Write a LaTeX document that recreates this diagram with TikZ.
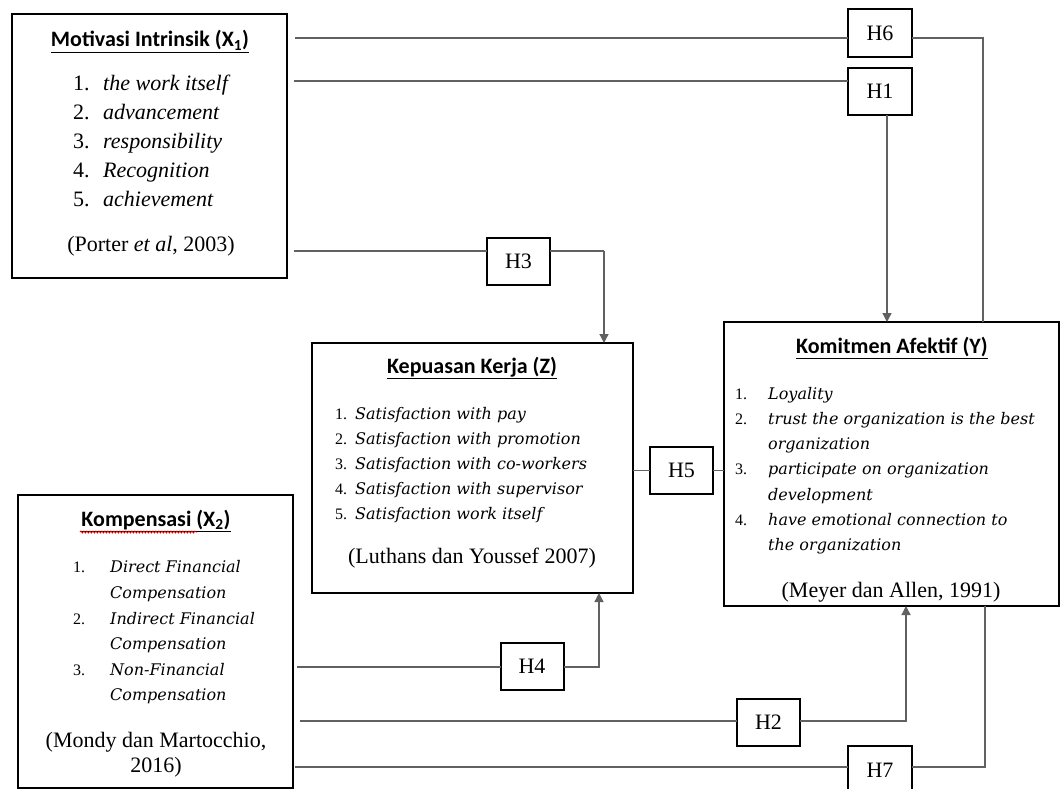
\documentclass[tikz,border=0pt]{standalone}
\usepackage{fontspec}
\setmainfont{Liberation Serif}
\newfontfamily\titlefont{Carlito}
\newfontfamily\slabfont{DejaVu Serif}
\usetikzlibrary{arrows.meta,decorations.pathmorphing}

% font sizes (1pt = 1 unit of the drawing grid)
\newcommand\bigfs{\fontsize{22}{25}\selectfont}
\newcommand\smallfs{\fontsize{16}{20}\selectfont}

\begin{document}
\begin{tikzpicture}[x=1pt,y=-1pt,
  varbox/.style={draw=black, line width=2pt, inner sep=0pt, outer sep=0pt},
  hbox/.style={draw=black, line width=2pt, inner sep=0pt, outer sep=0pt,
    minimum width=63pt, minimum height=47pt, font=\bigfs},
  ttl/.style={inner sep=0pt, anchor=base, font=\titlefont\bfseries\bigfs},
  num/.style={inner sep=0pt, anchor=base west, font=\bigfs},
  itm/.style={inner sep=0pt, anchor=base west, font=\bigfs\itshape},
  snum/.style={inner sep=0pt, anchor=base west, font=\smallfs},
  sitm/.style={inner sep=0pt, anchor=base west, font=\slabfont\smallfs\itshape},
  cite/.style={inner sep=0pt, anchor=base, font=\bigfs},
  link/.style={draw=black!62, line width=1.3pt},
  arr/.style={link, -{Triangle[width=9pt,length=9pt]}}]

\useasboundingbox (0,0) rectangle (1062,789);
\fill[white] (0,0) rectangle (1062,789);
\clip (0,0) rectangle (1062,789);

% ---- variable boxes ----
\node[varbox, minimum width=275pt, minimum height=264pt] (mi) at (149.5,146) {};
\node[varbox, minimum width=321pt, minimum height=250pt] (kk) at (472.5,468) {};
\node[varbox, minimum width=335pt, minimum height=284pt] (ka) at (891.5,464) {};
\node[varbox, minimum width=275pt, minimum height=293pt] (ko) at (155.5,641.5) {};

% ---- hypothesis boxes ----
\node[hbox, minimum width=64pt, minimum height=48pt] (h6) at (880,33) {H6};
\node[hbox, minimum width=64pt] (h1) at (880,91.5) {H1};
\node[hbox] (h3) at (518.5,261.5) {H3};
\node[hbox] (h5) at (681.5,470.5) {H5};
\node[hbox] (h4) at (532,666.5) {H4};
\node[hbox] (h2) at (768.5,722) {H2};
\node[hbox, minimum width=64pt, minimum height=48pt] (h7) at (880,770) {H7};

% ---- Motivasi Intrinsik ----
\node[ttl] (mit) at (150,47) {\underline{Motivasi Intrinsik (X\textsubscript{1})}};
\node[num] (mn1) at (73,91)  {1.}; \node[itm] (mi1) at (103,91)  {the work itself};
\node[num] (mn2) at (73,120) {2.}; \node[itm] (mi2) at (103,120) {advancement};
\node[num] (mn3) at (73,149) {3.}; \node[itm] (mi3) at (103,149) {responsibility};
\node[num] (mn4) at (73,177) {4.}; \node[itm] (mi4) at (103,177) {Recognition};
\node[num] (mn5) at (73,206) {5.}; \node[itm] (mi5) at (103,206) {achievement};
\node[cite] (mic) at (151,251) {(Porter \textit{et al}, 2003)};

% ---- Kepuasan Kerja ----
\node[ttl] (kkt) at (472,373) {\underline{Kepuasan Kerja (Z)}};
\node[snum] (kn1) at (335,419) {1.}; \node[sitm] (ki1) at (355,419) {Satisfaction with pay};
\node[snum] (kn2) at (335,444) {2.}; \node[sitm] (ki2) at (355,444) {Satisfaction with promotion};
\node[snum] (kn3) at (335,469) {3.}; \node[sitm] (ki3) at (355,469) {Satisfaction with co-workers};
\node[snum] (kn4) at (335,494) {4.}; \node[sitm] (ki4) at (355,494) {Satisfaction with supervisor};
\node[snum] (kn5) at (335,519) {5.}; \node[sitm] (ki5) at (355,519) {Satisfaction work itself};
\node[cite] (kkc) at (472,563) {(Luthans dan Youssef 2007)};

% ---- Komitmen Afektif ----
\node[ttl] (kat) at (892,353) {\underline{Komitmen Afektif (Y)}};
\node[snum] (an1) at (735,399) {1.}; \node[sitm] (ai1) at (768,399) {Loyality};
\node[snum] (an2) at (735,424) {2.}; \node[sitm] (ai2) at (768,424) {trust the organization is the best};
\node[sitm] (ai2b) at (768,449) {organization};
\node[snum] (an3) at (735,474) {3.}; \node[sitm] (ai3) at (768,474) {participate on organization};
\node[sitm] (ai3b) at (768,500) {development};
\node[snum] (an4) at (735,525) {4.}; \node[sitm] (ai4) at (768,525) {have emotional connection to};
\node[sitm] (ai4b) at (768,550) {the organization};
\node[cite] (kac) at (891,597) {(Meyer dan Allen, 1991)};

% ---- Kompensasi ----
\node[ttl] (kot) at (156,526) {\underline{Kompensasi (X\textsubscript{2})}};
\draw[red!85!black, line width=0.8pt, decorate,
  decoration={snake, amplitude=1pt, segment length=3pt}] (80,532) -- (197,532);
\node[snum] (on1) at (73,572) {1.}; \node[sitm] (oi1) at (110,572) {Direct Financial};
\node[sitm] (oi1b) at (110,598) {Compensation};
\node[snum] (on2) at (73,624) {2.}; \node[sitm] (oi2) at (110,624) {Indirect Financial};
\node[sitm] (oi2b) at (110,649) {Compensation};
\node[snum] (on3) at (73,675) {3.}; \node[sitm] (oi3) at (110,675) {Non-Financial};
\node[sitm] (oi3b) at (110,700) {Compensation};
\node[cite] (koc) at (156,747) {(Mondy dan Martocchio,};
\node[cite] (koc2) at (156,772) {2016)};

% ---- connectors ----
% H6: Motivasi -> Komitmen
\coordinate (s6) at (295,38);
\coordinate (c6) at (983,38);
\draw[link] (s6) -- (s6 -| h6.west);
\draw[link] (c6 -| h6.east) -- (c6) -- (c6 |- ka.north);

% H1: Motivasi -> Komitmen
\coordinate (s1) at (294,81);
\coordinate (d1) at (887,0);
\draw[link] (s1) -- (s1 -| h1.west);
\draw[arr] (d1 |- h1.south) -- (d1 |- ka.north);

% H3: Motivasi -> Kepuasan
\coordinate (s3) at (294,251);
\coordinate (c3) at (604,251);
\draw[link] (s3) -- (s3 -| h3.west);
\draw[link] (c3 -| h3.east) -- (c3);
\draw[arr] (c3) -- (c3 |- kk.north);

% H5: Kepuasan -> Komitmen
\draw[link] (kk.east |- h5.west) -- (h5.west);
\draw[link] (h5.east) -- (h5.east -| ka.west);

% H4: Kompensasi -> Kepuasan
\coordinate (s4) at (297,667);
\coordinate (c4) at (599,667);
\draw[link] (s4) -- (s4 -| h4.west);
\draw[arr] (c4 -| h4.east) -- (c4) -- (c4 |- kk.south);

% H2: Kompensasi -> Komitmen
\coordinate (s2) at (300,721);
\coordinate (c2) at (906,721);
\draw[link] (s2) -- (s2 -| h2.west);
\draw[arr] (c2 -| h2.east) -- (c2) -- (c2 |- ka.south);

% H7: Kompensasi -> Komitmen
\coordinate (s7) at (295,767);
\coordinate (c7) at (985,767);
\draw[link] (s7) -- (s7 -| h7.west);
\draw[link] (c7 -| h7.east) -- (c7) -- (c7 |- ka.south);

\end{tikzpicture}
\end{document}
